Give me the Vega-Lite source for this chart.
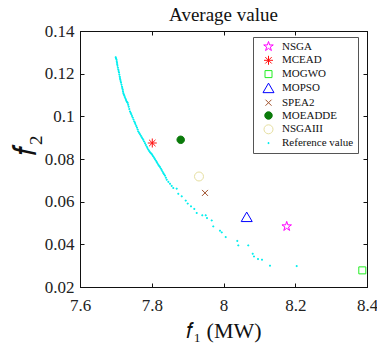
{
  "$schema": "https://vega.github.io/schema/vega-lite/v6.json",
  "autosize": {"type": "none"},
  "width": 287,
  "height": 256,
  "padding": {"left": 80, "top": 31, "right": 10, "bottom": 62},
  "background": "white",
  "title": {"text": "Average value", "font": "Liberation Serif", "fontSize": 19, "fontWeight": "normal", "color": "#111", "offset": -3, "anchor": "middle"},
  "config": {
    "view": {"stroke": "#111", "strokeWidth": 1},
    "axis": {"font": "Liberation Serif", "labelFont": "Liberation Serif", "titleFont": "Liberation Serif", "labelFontSize": 17, "labelColor": "#222", "titleColor": "#111", "titleFontWeight": "normal", "domainColor": "#111", "tickColor": "#111", "grid": false, "tickSize": -4, "labelOverlap": false, "labelFlush": false, "labelBound": false},
    "legend": {"symbolSize": 100, "labelFont": "Liberation Serif", "labelFontSize": 11, "labelColor": "#111"}
  },
  "data": {"values": [
    {"method": "NSGA", "f1": 8.1762, "f2": 0.0484},
    {"method": "MCEAD", "f1": 7.8015, "f2": 0.0875},
    {"method": "MOGWO", "f1": 8.3869, "f2": 0.0278},
    {"method": "MOPSO", "f1": 8.0647, "f2": 0.0529},
    {"method": "SPEA2", "f1": 7.9484, "f2": 0.0641},
    {"method": "MOEADDE", "f1": 7.8807, "f2": 0.0890},
    {"method": "NSGAIII", "f1": 7.9317, "f2": 0.0718},
    {"method": "Reference value", "f1": 7.6995, "f2": 0.1277},
    {"method": "Reference value", "f1": 7.7006, "f2": 0.12715},
    {"method": "Reference value", "f1": 7.7017, "f2": 0.1266},
    {"method": "Reference value", "f1": 7.7024, "f2": 0.12585},
    {"method": "Reference value", "f1": 7.7031, "f2": 0.1251},
    {"method": "Reference value", "f1": 7.7038, "f2": 0.1244},
    {"method": "Reference value", "f1": 7.7045, "f2": 0.1237},
    {"method": "Reference value", "f1": 7.7056, "f2": 0.1228},
    {"method": "Reference value", "f1": 7.7068, "f2": 0.1219},
    {"method": "Reference value", "f1": 7.7077, "f2": 0.1212},
    {"method": "Reference value", "f1": 7.7087, "f2": 0.1205},
    {"method": "Reference value", "f1": 7.7097, "f2": 0.11955},
    {"method": "Reference value", "f1": 7.7107, "f2": 0.1186},
    {"method": "Reference value", "f1": 7.7115, "f2": 0.1179},
    {"method": "Reference value", "f1": 7.7123, "f2": 0.1172},
    {"method": "Reference value", "f1": 7.7133, "f2": 0.1165},
    {"method": "Reference value", "f1": 7.7143, "f2": 0.1158},
    {"method": "Reference value", "f1": 7.7157, "f2": 0.11485},
    {"method": "Reference value", "f1": 7.7171, "f2": 0.1139},
    {"method": "Reference value", "f1": 7.7180, "f2": 0.1132},
    {"method": "Reference value", "f1": 7.7190, "f2": 0.1125},
    {"method": "Reference value", "f1": 7.7198, "f2": 0.1117},
    {"method": "Reference value", "f1": 7.7207, "f2": 0.1109},
    {"method": "Reference value", "f1": 7.7221, "f2": 0.1103},
    {"method": "Reference value", "f1": 7.7235, "f2": 0.1097},
    {"method": "Reference value", "f1": 7.7251, "f2": 0.1090},
    {"method": "Reference value", "f1": 7.7268, "f2": 0.1083},
    {"method": "Reference value", "f1": 7.7282, "f2": 0.1077},
    {"method": "Reference value", "f1": 7.7296, "f2": 0.1071},
    {"method": "Reference value", "f1": 7.7313, "f2": 0.1067},
    {"method": "Reference value", "f1": 7.7330, "f2": 0.1063},
    {"method": "Reference value", "f1": 7.7343, "f2": 0.1054},
    {"method": "Reference value", "f1": 7.7357, "f2": 0.1045},
    {"method": "Reference value", "f1": 7.7375, "f2": 0.1034},
    {"method": "Reference value", "f1": 7.7394, "f2": 0.1023},
    {"method": "Reference value", "f1": 7.7412, "f2": 0.10165},
    {"method": "Reference value", "f1": 7.7430, "f2": 0.1010},
    {"method": "Reference value", "f1": 7.7449, "f2": 0.1002},
    {"method": "Reference value", "f1": 7.7469, "f2": 0.0994},
    {"method": "Reference value", "f1": 7.7491, "f2": 0.0985},
    {"method": "Reference value", "f1": 7.7514, "f2": 0.0976},
    {"method": "Reference value", "f1": 7.7530, "f2": 0.09695},
    {"method": "Reference value", "f1": 7.7547, "f2": 0.0963},
    {"method": "Reference value", "f1": 7.7568, "f2": 0.0955},
    {"method": "Reference value", "f1": 7.7589, "f2": 0.0947},
    {"method": "Reference value", "f1": 7.7607, "f2": 0.0938},
    {"method": "Reference value", "f1": 7.7625, "f2": 0.0929},
    {"method": "Reference value", "f1": 7.7648, "f2": 0.09225},
    {"method": "Reference value", "f1": 7.7672, "f2": 0.0916},
    {"method": "Reference value", "f1": 7.7696, "f2": 0.0909},
    {"method": "Reference value", "f1": 7.7720, "f2": 0.0902},
    {"method": "Reference value", "f1": 7.7742, "f2": 0.0896},
    {"method": "Reference value", "f1": 7.7764, "f2": 0.0890},
    {"method": "Reference value", "f1": 7.7788, "f2": 0.0882},
    {"method": "Reference value", "f1": 7.7812, "f2": 0.0874},
    {"method": "Reference value", "f1": 7.7835, "f2": 0.0866},
    {"method": "Reference value", "f1": 7.7859, "f2": 0.0858},
    {"method": "Reference value", "f1": 7.7881, "f2": 0.0851},
    {"method": "Reference value", "f1": 7.7904, "f2": 0.0844},
    {"method": "Reference value", "f1": 7.7927, "f2": 0.0838},
    {"method": "Reference value", "f1": 7.7951, "f2": 0.0832},
    {"method": "Reference value", "f1": 7.7975, "f2": 0.08275},
    {"method": "Reference value", "f1": 7.7999, "f2": 0.0823},
    {"method": "Reference value", "f1": 7.8021, "f2": 0.08175},
    {"method": "Reference value", "f1": 7.8043, "f2": 0.0812},
    {"method": "Reference value", "f1": 7.8067, "f2": 0.08055},
    {"method": "Reference value", "f1": 7.8091, "f2": 0.0799},
    {"method": "Reference value", "f1": 7.8114, "f2": 0.07925},
    {"method": "Reference value", "f1": 7.8138, "f2": 0.0786},
    {"method": "Reference value", "f1": 7.8160, "f2": 0.07795},
    {"method": "Reference value", "f1": 7.8183, "f2": 0.0773},
    {"method": "Reference value", "f1": 7.8206, "f2": 0.07675},
    {"method": "Reference value", "f1": 7.8230, "f2": 0.0762},
    {"method": "Reference value", "f1": 7.8253, "f2": 0.0755},
    {"method": "Reference value", "f1": 7.8277, "f2": 0.0748},
    {"method": "Reference value", "f1": 7.8300, "f2": 0.0741},
    {"method": "Reference value", "f1": 7.8322, "f2": 0.0734},
    {"method": "Reference value", "f1": 7.8345, "f2": 0.0728},
    {"method": "Reference value", "f1": 7.8369, "f2": 0.0722},
    {"method": "Reference value", "f1": 7.8393, "f2": 0.07125},
    {"method": "Reference value", "f1": 7.8417, "f2": 0.0703},
    {"method": "Reference value", "f1": 7.8463, "f2": 0.0693},
    {"method": "Reference value", "f1": 7.8509, "f2": 0.0684},
    {"method": "Reference value", "f1": 7.8555, "f2": 0.0674},
    {"method": "Reference value", "f1": 7.8601, "f2": 0.0664},
    {"method": "Reference value", "f1": 7.8695, "f2": 0.0661},
    {"method": "Reference value", "f1": 7.8740, "f2": 0.0637},
    {"method": "Reference value", "f1": 7.8835, "f2": 0.0625},
    {"method": "Reference value", "f1": 7.8946, "f2": 0.0605},
    {"method": "Reference value", "f1": 7.9002, "f2": 0.0591},
    {"method": "Reference value", "f1": 7.9094, "f2": 0.0578},
    {"method": "Reference value", "f1": 7.9186, "f2": 0.0566},
    {"method": "Reference value", "f1": 7.9253, "f2": 0.0547},
    {"method": "Reference value", "f1": 7.9409, "f2": 0.0536},
    {"method": "Reference value", "f1": 7.9504, "f2": 0.0536},
    {"method": "Reference value", "f1": 7.9540, "f2": 0.0523},
    {"method": "Reference value", "f1": 7.9671, "f2": 0.0512},
    {"method": "Reference value", "f1": 7.9716, "f2": 0.0484},
    {"method": "Reference value", "f1": 7.9902, "f2": 0.0464},
    {"method": "Reference value", "f1": 7.9950, "f2": 0.0456},
    {"method": "Reference value", "f1": 8.0061, "f2": 0.0434},
    {"method": "Reference value", "f1": 8.0385, "f2": 0.0416},
    {"method": "Reference value", "f1": 8.0413, "f2": 0.0395},
    {"method": "Reference value", "f1": 8.0691, "f2": 0.0395},
    {"method": "Reference value", "f1": 8.0814, "f2": 0.0356},
    {"method": "Reference value", "f1": 8.0850, "f2": 0.0343},
    {"method": "Reference value", "f1": 8.0962, "f2": 0.0331},
    {"method": "Reference value", "f1": 8.1073, "f2": 0.0328},
    {"method": "Reference value", "f1": 8.1296, "f2": 0.0300},
    {"method": "Reference value", "f1": 8.2040, "f2": 0.0298}
  ]},
  "layer": [
    {
      "mark": {"type": "point", "filled": false, "strokeWidth": 1, "opacity": 1, "size": 100},
      "encoding": {
        "x": {"field": "f1", "type": "quantitative", "scale": {"domain": [7.6, 8.4], "nice": false, "zero": false},
              "axis": {"values": [7.6, 7.8, 8, 8.2, 8.4], "format": ".1~f", "title": "𝑓₁ (MW)", "titleFontSize": 22, "labelPadding": 14, "titlePadding": 7}},
        "y": {"field": "f2", "type": "quantitative", "scale": {"domain": [0.02, 0.14], "nice": false, "zero": false},
              "axis": {"values": [0.02, 0.04, 0.06, 0.08, 0.1, 0.12, 0.14], "format": ".2~f", "title": "𝑓₂", "titleFontSize": 32, "labelPadding": 10, "titleX": -38, "titleY": 114, "titleAlign": "center", "titleAngle": -90, "titleBaseline": "bottom"}},
        "stroke": {"field": "method", "type": "nominal",
          "scale": {"domain": ["NSGA", "MCEAD", "MOGWO", "MOPSO", "SPEA2", "MOEADDE", "NSGAIII", "Reference value"],
                    "range": ["#ff00ff", "#ff1010", "#22ee22", "#0000ff", "#a0522d", "#0a7a0a", "#e6dfa0", "#00eeee"]},
          "legend": {"title": null, "orient": "none", "legendX": 173, "legendY": 6, "labelFont": "Liberation Serif", "labelFontSize": 11, "labelColor": "#111", "strokeColor": "#555", "fillColor": "white", "padding": 4, "symbolOffset": 6, "labelOffset": 8, "rowPadding": 0.8, "labelLimit": 200, "symbolStrokeWidth": 1}},
        "fill": {"field": "method", "type": "nominal",
          "scale": {"domain": ["NSGA", "MCEAD", "MOGWO", "MOPSO", "SPEA2", "MOEADDE", "NSGAIII", "Reference value"],
                    "range": ["transparent", "transparent", "transparent", "transparent", "transparent", "#0a7a0a", "transparent", "#00eeee"]},
          "legend": {"title": null, "orient": "none", "legendX": 173, "legendY": 6, "labelFont": "Liberation Serif", "labelFontSize": 11, "labelColor": "#111", "strokeColor": "#555", "fillColor": "white", "padding": 4, "symbolOffset": 6, "labelOffset": 8, "rowPadding": 0.8, "labelLimit": 200, "symbolStrokeWidth": 1}},
        "shape": {"field": "method", "type": "nominal",
          "scale": {"domain": ["NSGA", "MCEAD", "MOGWO", "MOPSO", "SPEA2", "MOEADDE", "NSGAIII", "Reference value"],
                    "range": ["M0,-1L0.225,-0.309L0.951,-0.309L0.363,0.118L0.588,0.809L0,0.382L-0.588,0.809L-0.363,0.118L-0.951,-0.309L-0.225,-0.309Z", "M0,-0.9L0,0.9M-0.9,0L0.9,0M-0.64,-0.64L0.64,0.64M-0.64,0.64L0.64,-0.64", "M-0.7,-0.7L0.7,-0.7L0.7,0.7L-0.7,0.7Z", "M0,-0.95L1.1,0.95L-1.1,0.95Z", "M-0.6,-0.6L0.6,0.6M-0.6,0.6L0.6,-0.6", "M-0.75,0A0.75,0.75,0,1,0,0.75,0A0.75,0.75,0,1,0,-0.75,0Z", "M-0.9,0A0.9,0.9,0,1,0,0.9,0A0.9,0.9,0,1,0,-0.9,0Z", "M-0.1,-0.1L0.1,-0.1L0.1,0.1L-0.1,0.1Z"]},
          "legend": {"title": null, "orient": "none", "legendX": 173, "legendY": 6, "labelFont": "Liberation Serif", "labelFontSize": 11, "labelColor": "#111", "strokeColor": "#555", "fillColor": "white", "padding": 4, "symbolOffset": 6, "labelOffset": 8, "rowPadding": 0.8, "labelLimit": 200, "symbolStrokeWidth": 1}}
      }
    },
    {
      "mark": {"type": "point", "opacity": 0},
      "encoding": {
        "x": {"field": "f1", "type": "quantitative", "axis": {"orient": "top", "values": [7.6, 7.8, 8, 8.2, 8.4], "labels": false, "title": null}},
        "y": {"field": "f2", "type": "quantitative", "axis": {"orient": "right", "values": [0.02, 0.04, 0.06, 0.08, 0.1, 0.12, 0.14], "labels": false, "title": null}}
      }
    }
  ],
  "resolve": {"axis": {"x": "independent", "y": "independent"}}
}
